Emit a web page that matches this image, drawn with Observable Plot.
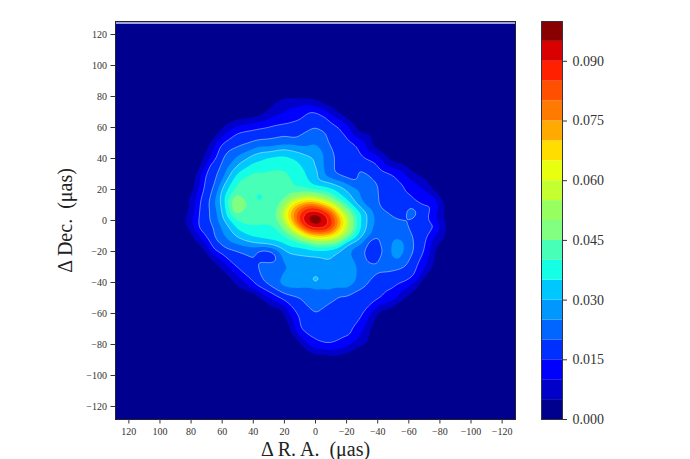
<!DOCTYPE html>
<html><head><meta charset="utf-8">
<script src="https://cdn.jsdelivr.net/npm/d3@7"></script>
<script src="https://cdn.jsdelivr.net/npm/@observablehq/plot@0.6"></script>
<style>
html,body{margin:0;padding:0;background:#fff;width:690px;height:459px;overflow:hidden}
#c{display:flex;width:690px;height:459px}
svg{display:block;flex:none}
</style></head><body><div id="c"></div>
<script>
// Brightness, in thousandths of the colour-bar unit
const gridXs=[90,80,70,60,50,40,30,20,10,0,-10,-20,-30,-40,-50,-60,-70,-80,-90];
const gridYs=[80,70,60,50,40,30,20,10,0,-10,-20,-30,-40,-50,-60,-70,-80,-90];
const row80=[0,0,0,0,0,0,0,3.5,3.5,3.5,0.5,0,0,0,0,0,0,0,0];
const row70=[0,0,0,0,0,0.5,5.5,10,13,15.5,8.5,0.5,0,0,0,0,0,0,0];
const row60=[0,0,0,4,11,14,15.5,16.5,17,20,17.5,13,1,0,0,0,0,0,0];
const row50=[0,0,2,15,18,20.5,21.5,23,23,25,19,17,12,1,0,0,0,0,0];
const row40=[0,0,7,20,26,33,36,37,34,30,21,16.5,16,13,2,0,0,0,0];
const row30=[0,0.5,16,22,36,41,41,41,37,32,21,17,21,18,15,8,1,0,0];
const row20=[0,2,18,31,43,42,42,40,38,37,34,30,24,20,17,14.5,10,1,0];
const row10=[0,5,18,31,54,41,41,52,74,79,64,41,26,20,17,17,15,8,0];
const row0=[0,9,18,28,41,42,42,46,80,100,88,48,32,23,21,19.5,17,6.5,0];
const rowM10=[0,4,16,24,31,36,38,40,50,62,52,38,25,20,24,21,17,7,0];
const rowM20=[0,0,5,17,19.5,21,18,24,30,31,28,24,21,17,26,22,15,1,0];
const rowM30=[0,0,0,6,16,19,22,24.5,25,25,28,29,23,21,21,19,11,0,0];
const rowM40=[0,0,0,0,6,15,22,28,28,28,29,29,22,18,17,14,2,0,0];
const rowM50=[0,0,0,0,0,0,10,17,20,24,21,19,17,16,12,3,0,0,0];
const rowM60=[0,0,0,0,0,0,0,5,16.5,20,17.5,17,16,4,0,0,0,0,0];
const rowM70=[0,0,0,0,0,0,0,0,15.5,17,18,17,11,0,0,0,0,0,0];
const rowM80=[0,0,0,0,0,0,0,0,3,14,15,12,5,0,0,0,0,0,0];
const rowM90=[0,0,0,0,0,0,0,0,0,1,2,0,0,0,0,0,0,0,0];
const gridRows=[row80,row70,row60,row50,row40,row30,row20,row10,row0,rowM10,rowM20,rowM30,rowM40,rowM50,rowM60,rowM70,rowM80,rowM90];

// Finer readings around the bright core
const coreXs=[30,25,20,15,10,5,0,-5,-10,-15,-20,-25,-30];
const coreYs=[20,15,10,5,0,-5,-10,-15,-20];
const core20=[42,42,41,41,40,40,39,38,36,33,30,27,24];
const core15=[42,42,43,50,55,57,55,50,43,38,33,28,24];
const core10=[42,43,52,66,74,80,79,71,64,51,41,33,26];
const core5=[42,44,60,74,85,93,95,91,82,67,52,41,34];
const core0=[42,43,57,72,88,96,100,96,88,75,60,44,33];
const coreM5=[38,40,46,62,74,88,92,92,86,71,58,44,33];
const coreM10=[38,38,40,44,55,65,69,70,67,60,49,39,30];
const coreM15=[31,33,35,38,38,40,45,46,45,42,31,27,25];
const coreM20=[18,22,29,31,32,33,33,33,32,29,26,23,21];
const coreRows=[core20,core15,core10,core5,core0,coreM5,coreM10,coreM15,coreM20];

// Small isolated features
const spotXs=[31,35,27,37,-36.5,-37,-37,-53.5,-52,-52,0,4,-4,0,0,-62,-57,-67,-62,-62,130,130,-130,-130];
const spotYs=[-22,-20,-24,16,-18,-14,-23,-18,-14,-23,-38,-38,-38,-34,-42,5,5,5,10,0,130,-130,130,-130];
const spotVals=[16.5,17,17,38,15,16,16,29,28,28,46,26,26,26,26,28,17,17,17,18,0,0,0,0];

// Points read along the edge of the lowest band (0.005)
const edgeXs=[82.5,80.4,71.8,65.4,56.8,35.4,26.8,20.4,1,-9.6,-26.8,-48.2,-69.7,-82.5,-83.6,-76.1,-61.1,-39.7,-33.2,-22.5,-7.5,7.5,16,20.4,43.9,65.4,78.2];
const edgeYs=[2.2,15,36.6,51.6,62.4,67.7,76.3,79.1,77.4,73.1,58,38.7,28,10.8,-2.2,-25.8,-47.3,-60.2,-79.6,-83.9,-86,-81.7,-71,-58,-45.2,-25.8,-8.6];
// Points at 0.015
const lineAXs=[76,75,69.7,61,50.4,16,3.2,-7.5,-26.8,-56.8,-76.1,-78.2,-63.2,-33.2,-22.5,-7.5,7.5,13.9,39.7,65.4,76];
const lineAYs=[0,10.8,34.4,49.5,57,63.4,71,66.7,49.5,23.7,10.8,-2.2,-36.6,-58,-75.3,-80.6,-73,-58,-40.9,-19.4,-6.5];
// Points at 0.020
const lineBXs=[65.4,59,37.5,11.8,1,-11.8,-11.8,-26.8,-26.8,-39.7,-40.7,-59,-63.2,-56.8,-33.2,-13.9,-1,9.6,28.9,37.5,65.4];
const lineBYs=[19.4,38.7,51.6,52.7,60.2,43,30,23.7,35.5,23.7,10.8,0,-19.4,-30,-40.9,-47.3,-59,-49.5,-38.7,-25.8,-4.3];
// Points at 0.030
const lineCXs=[61,54.7,46,20.4,1,-1,-18.2,-33.2,-18.2,7.5,37.5,56.8];
const lineCYs=[17.2,30,38.7,46.2,38.7,25.8,19.4,4.3,-17.2,-22.6,-15,-2.2];

const xTicks=[120,100,80,60,40,20,0,-20,-40,-60,-80,-100,-120];
const yTicks=[120,100,80,60,40,20,0,-20,-40,-60,-80,-100,-120];
const barTicks=[0,0.015,0.03,0.045,0.06,0.075,0.09];
const levels=[0.005,0.01,0.015,0.02,0.025,0.03,0.035,0.04,0.045,0.05,0.055,0.06,0.065,0.07,0.075,0.08,0.085,0.09,0.095];
const lineLevels=[0.015,0.02,0.03];
const coreLineLevels=[0.09];
const bandColors=["#00008f","#0000c8","#0000ff","#0030ff","#0066ff","#0098ff","#00c8ff","#14ffe4","#48ffb8","#80ff80","#98ff60","#c4ff30","#e8ff10","#ffdd00","#ffaa00","#ff7a00","#ff5000","#ff2000","#d80000","#880000"];

const pts=[];
gridYs.forEach((y,i)=>gridXs.forEach((x,j)=>{
  if(Math.abs(x)<=30&&Math.abs(y)<=20) return;
  pts.push({x,y,v:gridRows[i][j]/1000});
}));
coreYs.forEach((y,i)=>coreXs.forEach((x,j)=>pts.push({x,y,v:coreRows[i][j]/1000})));
spotXs.forEach((x,i)=>pts.push({x,y:spotYs[i],v:spotVals[i]/1000}));
edgeXs.forEach((x,i)=>pts.push({x,y:edgeYs[i],v:0.005}));
lineAXs.forEach((x,i)=>pts.push({x,y:lineAYs[i],v:0.015}));
lineBXs.forEach((x,i)=>pts.push({x,y:lineBYs[i],v:0.02}));
lineCXs.forEach((x,i)=>pts.push({x,y:lineCYs[i],v:0.03}));

const minus=d=>String(d).replace("-","\u2212");
const font='"Liberation Serif","Times New Roman",serif';
const opts={x:"x",y:"y",interpolate:"barycentric",pixelSize:1,blur:2.5};

const main=Plot.plot({
  width:541,height:459,marginLeft:115,marginRight:26,marginTop:21,marginBottom:40,
  style:{fontFamily:font,background:"transparent"},
  x:{domain:[128.6,-128.6],label:null},
  y:{domain:[-128.4,128.4],label:null},
  color:{type:"threshold",domain:levels,range:bandColors},
  marks:[
    Plot.frame({fill:bandColors[0]}),
    Plot.contour(pts,{...opts,fill:"v",thresholds:[0,...levels],clip:true}),
    Plot.contour(pts,{...opts,value:"v",fill:"none",stroke:"#fff",strokeOpacity:0.6,strokeWidth:0.7,thresholds:lineLevels,clip:true}),
    Plot.contour(pts,{...opts,value:"v",fill:"none",stroke:"#fff",strokeOpacity:0.3,strokeWidth:0.6,thresholds:coreLineLevels,clip:true}),
    Plot.ruleY([127.4],{stroke:"#d6d8f0",strokeWidth:1.6}),
    Plot.frame({stroke:"#223",strokeWidth:1}),
    Plot.axisX({anchor:"bottom",ticks:xTicks,tickFormat:minus,tickSize:4.5,tickPadding:4,fontSize:10,color:"#333",label:null}),
    Plot.axisY({anchor:"left",ticks:yTicks,tickFormat:minus,tickSize:4.5,tickPadding:4,fontSize:10,color:"#333",label:null}),
    Plot.text(["\u0394 R. A.  (\u03bcas)"],{frameAnchor:"bottom",dy:30.5,fontSize:20,fill:"#222",lineAnchor:"middle",fontFamily:font,text:d=>d}),
    Plot.text(["\u0394 Dec.  (\u03bcas)"],{frameAnchor:"left",dx:-50,rotate:-90,textAnchor:"middle",fontSize:20,fill:"#222",fontFamily:font,text:d=>d})
  ]
});

const bands=bandColors.map((c,i)=>({lo:i*0.005,hi:(i+1)*0.005,c}));
const bar=Plot.plot({
  width:149,height:459,marginLeft:0,marginRight:128,marginTop:21,marginBottom:40,
  style:{fontFamily:font,background:"transparent"},
  x:{domain:[0,1],axis:null},
  y:{domain:[0,0.1],label:null},
  marks:[
    Plot.rect(bands,{x1:()=>0,x2:()=>1,y1:"lo",y2:"hi",fill:"c"}),
    Plot.frame({stroke:"#334",strokeWidth:1}),
    Plot.axisY({anchor:"right",ticks:barTicks,tickFormat:d3.format(".3f"),tickSize:4,tickPadding:6,fontSize:14,color:"#333",label:null})
  ]
});
document.getElementById("c").append(main,bar);
</script></body></html>
